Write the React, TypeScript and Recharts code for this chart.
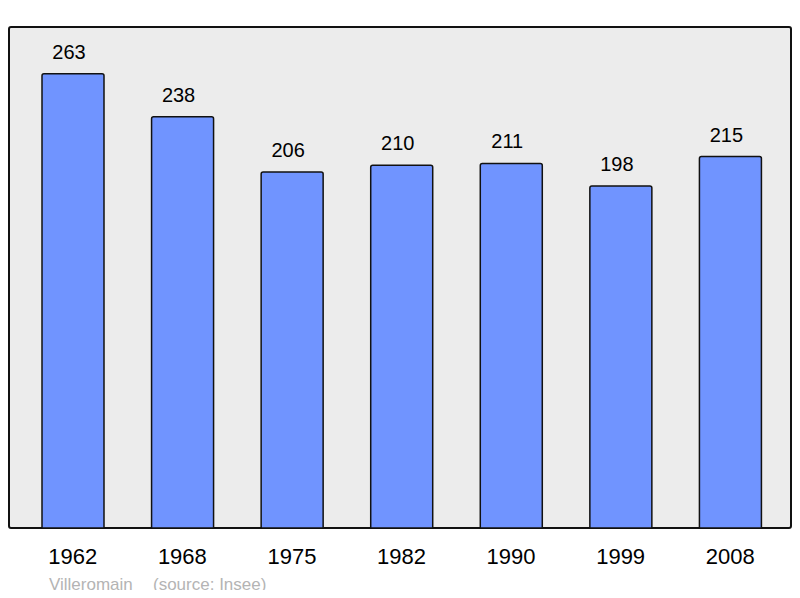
import { BarChart, Bar, XAxis, YAxis, LabelList } from 'recharts'

const years = ['1962', '1968', '1975', '1982', '1990', '1999', '2008']
const population = [263, 238, 206, 210, 211, 198, 215]
const yDomain = [0, 290]

const data = years.map((year, i) => ({ year, population: population[i] }))

const font = '"Liberation Sans", Arial, sans-serif'

export default function App() {
  return (
    <div style={{ position: 'relative', width: 800, height: 598, margin: -8, fontFamily: font }}>
      {/* grey frame behind the plot */}
      <div style={{
        position: 'absolute', left: 8, top: 26, width: 784, height: 503,
        boxSizing: 'border-box', border: '2px solid #111', borderRadius: 3, background: '#ececec',
      }} />
      <div style={{ position: 'absolute', left: 0, top: 0 }}>
        <BarChart width={800} height={598} data={data} margin={{ top: 27, right: 15, left: 18, bottom: 0 }}>
          <XAxis
            dataKey="year"
            axisLine={false} tickLine={false} tickSize={0} tickMargin={20} height={70}
            tick={{ fill: '#000', fontSize: 22, fontFamily: font }}
          />
          <YAxis hide domain={yDomain} />
          <Bar dataKey="population" fill="#7094ff" stroke="#111" strokeWidth={1.5}
            barSize={62} radius={[2, 2, 0, 0]} isAnimationActive={false}>
            <LabelList dataKey="population" position="top" offset={15} dx={-4}
              style={{ fill: '#000', fontSize: 20, fontFamily: font }} />
          </Bar>
        </BarChart>
      </div>
      <div style={{ position: 'absolute', left: 49, top: 575, fontSize: 17, color: '#b4b4b4', whiteSpace: 'pre' }}>
        Villeromain
      </div>
      <div style={{ position: 'absolute', left: 153, top: 575, fontSize: 17, color: '#b4b4b4', whiteSpace: 'pre' }}>
        (source: Insee)
      </div>
    </div>
  )
}
